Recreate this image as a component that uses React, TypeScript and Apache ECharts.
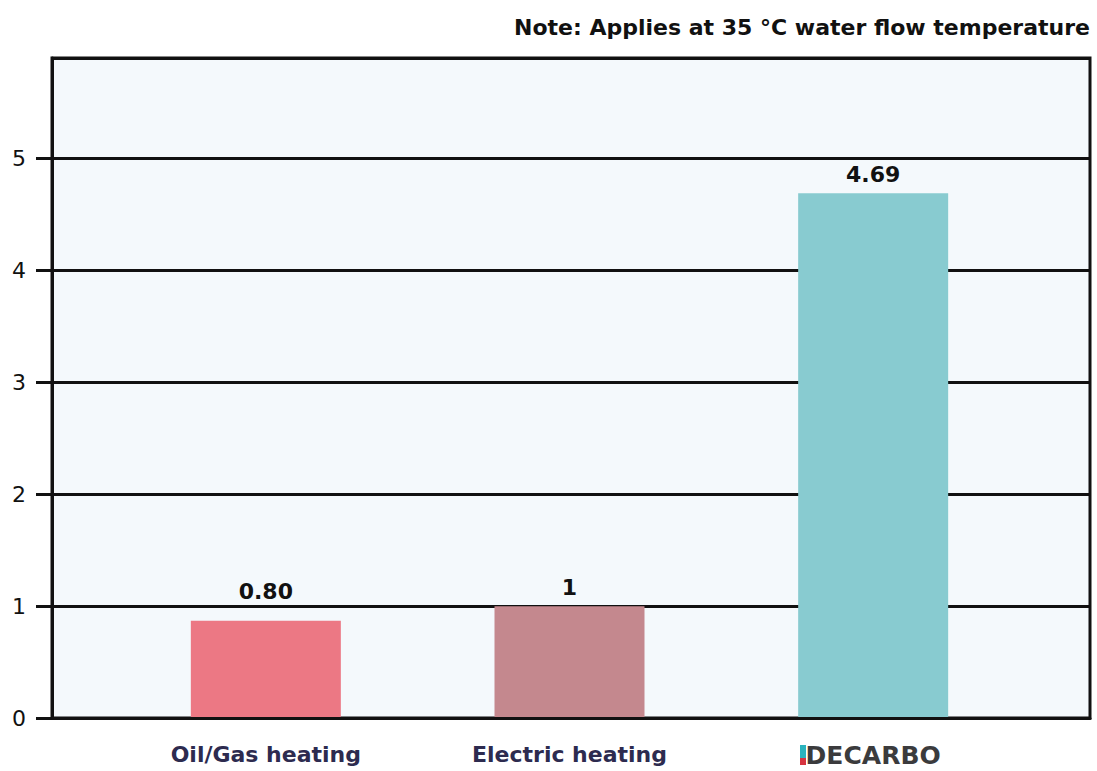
import React, { useEffect, useRef } from "react";
import * as echarts from "echarts";

const categories = ["Oil/Gas heating", "Electric heating", "DECARBO"];
const values = [0.87, 1, 4.69];
const valueLabels = ["0.80", "1", "4.69"];
const barColors = ["#ec7884", "#c4888e", "#88cbd0"];
const yTicks = [0, 1, 2, 3, 4, 5];
const noteText = "Note: Applies at 35 °C water flow temperature";

const FONT = "'DejaVu Sans', sans-serif";

export default function App() {
  const ref = useRef<HTMLDivElement>(null);
  useEffect(() => {
    if (!ref.current) return;
    const chart = echarts.init(ref.current, null, { renderer: "svg" });
    const yMax = 5.9;
    chart.setOption({
      animation: false,
      backgroundColor: "#ffffff",
      title: {
        text: noteText,
        right: 2,
        top: 11,
        textStyle: { fontFamily: FONT, fontSize: 22, fontWeight: "bold", color: "#111" },
      },
      grid: [
        {
          left: 52, right: 7, top: 58, bottom: 53,
          show: true, backgroundColor: "#f4f9fc", borderColor: "#111", borderWidth: 3,
        },
        { left: 114, right: 72, top: 58, bottom: 53 },
      ],
      xAxis: [
        {
          type: "category", gridIndex: 0, data: categories, z: 5,
          axisLine: { show: true, lineStyle: { color: "#111", width: 3 } },
          axisTick: { show: false }, axisLabel: { show: false }, splitLine: { show: false },
        },
        {
          type: "category", gridIndex: 1, data: categories,
          axisLine: { show: false }, axisTick: { show: false },
          axisLabel: {
            margin: 25,
            formatter: (v: string) => (v === "DECARBO" ? "{logo|" + v + "}" : "{cat|" + v + "}"),
            rich: {
              cat: { fontFamily: FONT, fontSize: 22, fontWeight: 700, color: "#2d2b4f" },
              logo: { fontFamily: FONT, fontSize: 25, fontWeight: 900, color: "#3b3b3d" },
            },
          },
        },
      ],
      yAxis: [
        {
          type: "value", gridIndex: 0, min: 0, max: yMax, interval: 1,
          axisLine: { show: true, lineStyle: { color: "#111", width: 3 } },
          axisTick: { show: true, length: 16, lineStyle: { color: "#111", width: 3 } },
          axisLabel: {
            margin: 26, showMaxLabel: false, fontFamily: FONT, fontSize: 22, fontWeight: 500, color: "#111",
            formatter: (v: number) => (yTicks.includes(v) ? String(v) : ""),
          },
          splitLine: { show: true, lineStyle: { color: "#111", width: 3 } },
        },
        { type: "value", gridIndex: 1, min: 0, max: yMax, interval: 1, show: false, splitLine: { show: false } },
      ],
      series: [
        {
          type: "bar", xAxisIndex: 1, yAxisIndex: 1, barWidth: 150,
          data: values.map((v, i) => ({
            value: v,
            itemStyle: { color: barColors[i] },
            label: { distance: i === 0 ? 18 : 8 },
          })),
          label: {
            show: true, position: "top",
            formatter: (p: any) => valueLabels[p.dataIndex],
            fontFamily: FONT, fontSize: 22, fontWeight: 700, color: "#111",
          },
        },
      ],
      graphic: [
        { type: "rect", shape: { x: 800, y: 745, width: 6, height: 13 }, style: { fill: "#2bb3bd" }, z: 10 },
        { type: "rect", shape: { x: 800, y: 758, width: 6, height: 7 }, style: { fill: "#d7333f" }, z: 10 },
      ],
    });
    return () => chart.dispose();
  }, []);
  return <div ref={ref} style={{ width: 1097, height: 771, position: "absolute", left: 0, top: 0 }} />;
}
